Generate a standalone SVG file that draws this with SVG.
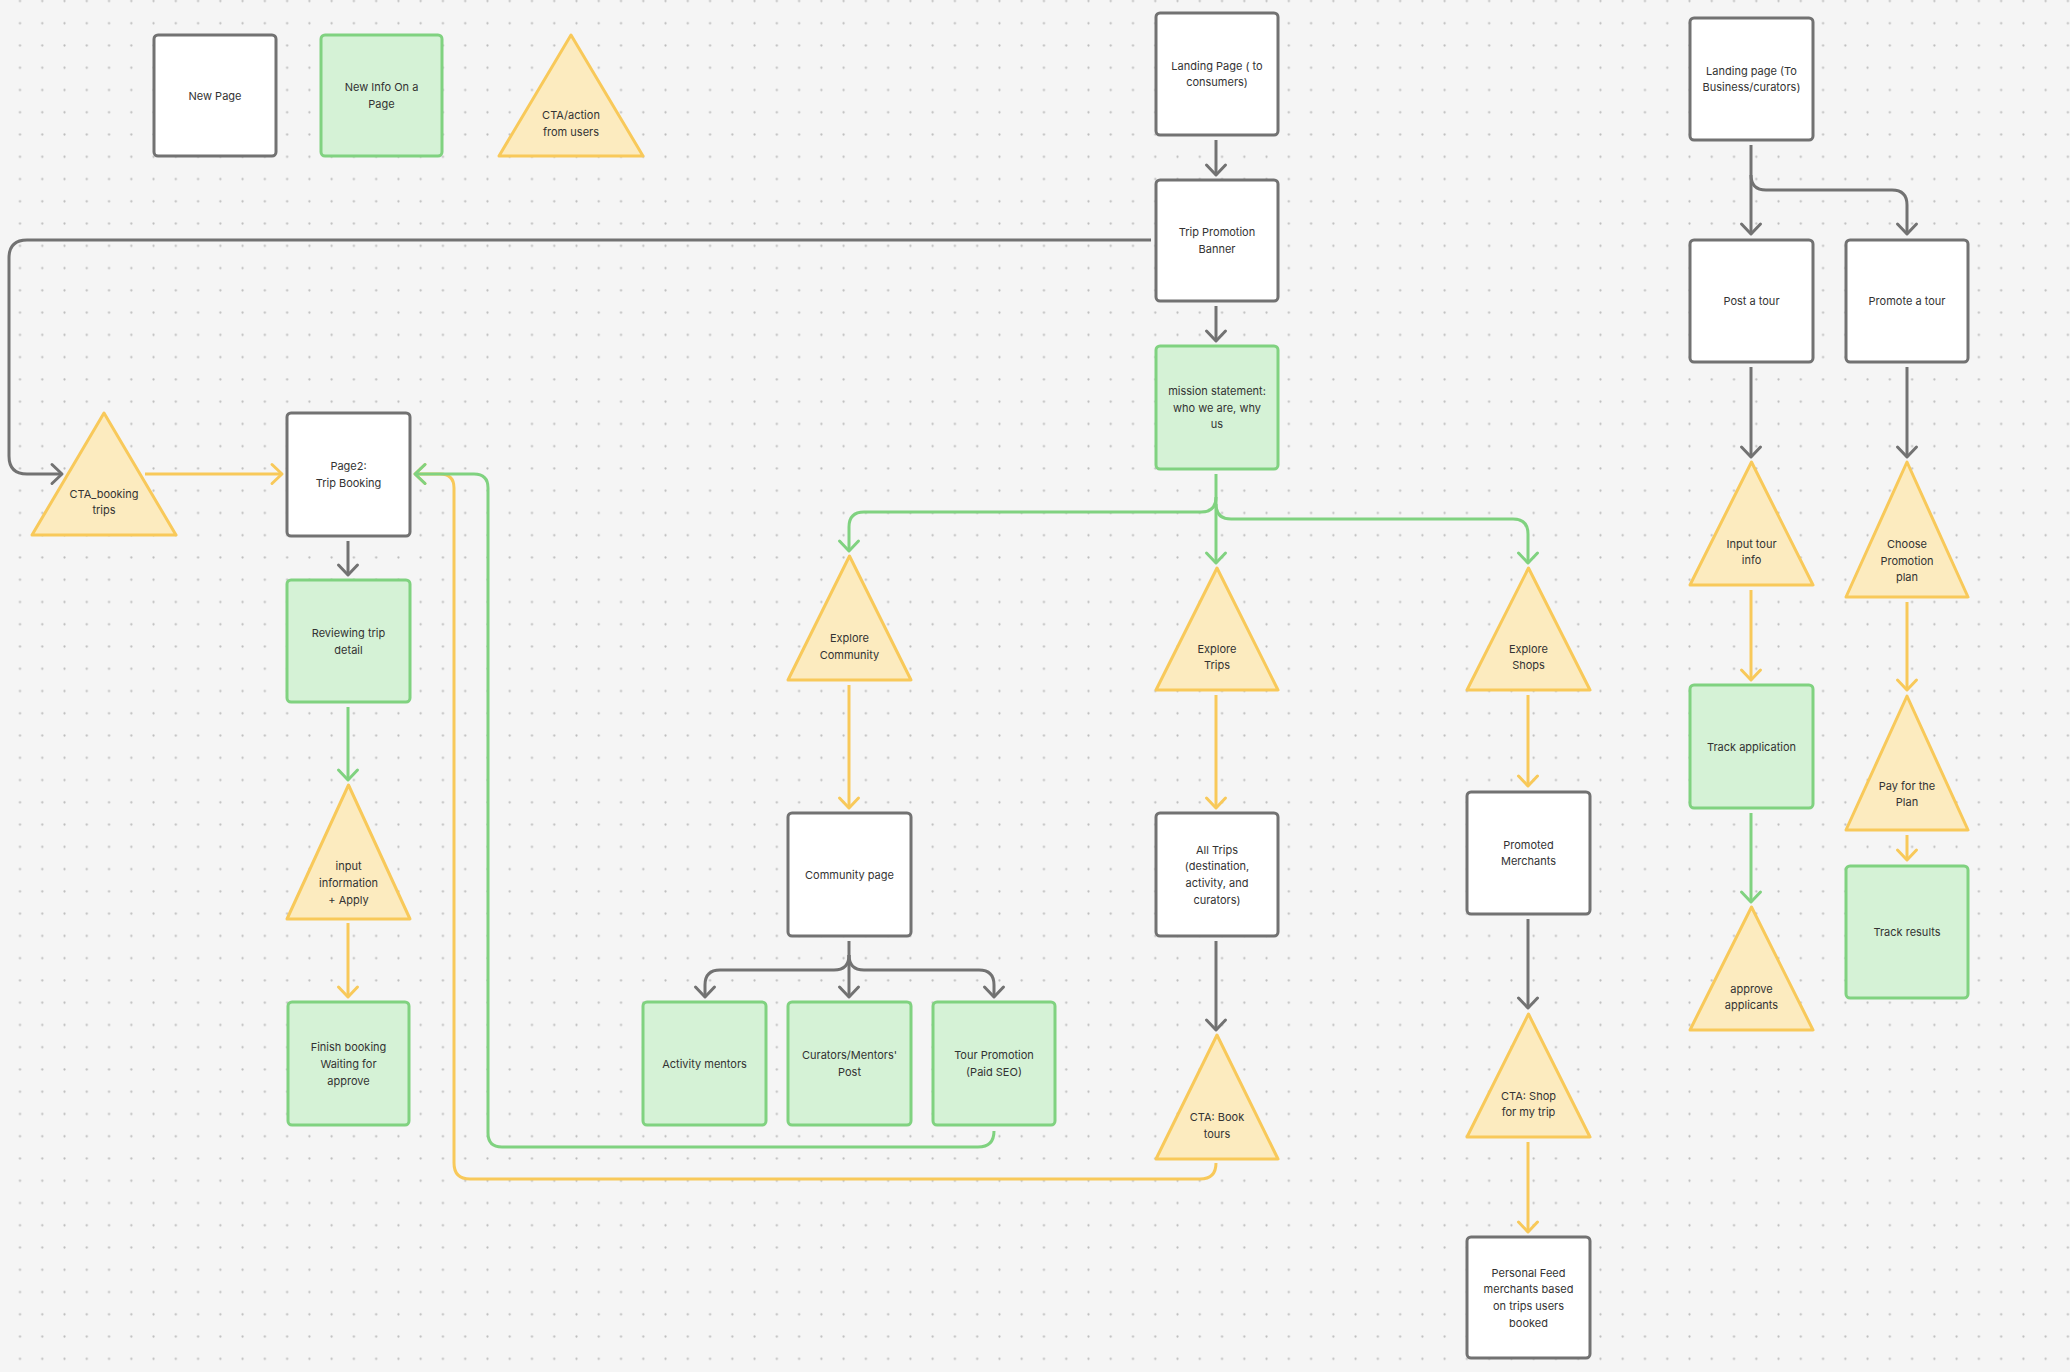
<svg xmlns="http://www.w3.org/2000/svg" width="2070" height="1372" viewBox="0 0 2070 1372">
<defs>
<pattern id="dots" x="8.87" y="-10.13" width="22.26" height="22.26" patternUnits="userSpaceOnUse">
<circle cx="11.13" cy="11.13" r="1.1" fill="#bcbcbc"/>
</pattern>
<marker id="ag" markerUnits="userSpaceOnUse" markerWidth="24" markerHeight="24" viewBox="-12 -12 24 24" refX="0" refY="0" orient="auto" overflow="visible">
<path d="M-10,-9.5 L0,0 L-10,9.5" fill="none" stroke="#727272" stroke-width="3" stroke-linecap="round" stroke-linejoin="round"/>
</marker>
<marker id="agr" markerUnits="userSpaceOnUse" markerWidth="24" markerHeight="24" viewBox="-12 -12 24 24" refX="0" refY="0" orient="auto" overflow="visible">
<path d="M-10,-9.5 L0,0 L-10,9.5" fill="none" stroke="#80d280" stroke-width="3" stroke-linecap="round" stroke-linejoin="round"/>
</marker>
<marker id="ay" markerUnits="userSpaceOnUse" markerWidth="24" markerHeight="24" viewBox="-12 -12 24 24" refX="0" refY="0" orient="auto" overflow="visible">
<path d="M-10,-9.5 L0,0 L-10,9.5" fill="none" stroke="#f8c95a" stroke-width="3" stroke-linecap="round" stroke-linejoin="round"/>
</marker>
</defs>
<style>
.pg{fill:#ffffff;stroke:#727272;stroke-width:3}
.info{fill:#d5f2d6;stroke:#80d280;stroke-width:3}
.cta{fill:#fcebbf;stroke:#f8c95a;stroke-width:3;stroke-linejoin:round}
.t{font-family:Inter,"Noto Sans","Liberation Sans",sans-serif;font-size:11px;fill:#333333;text-anchor:middle}
.cg{fill:none;stroke:#727272;stroke-width:3;marker-end:url(#ag)}
.cgn{fill:none;stroke:#727272;stroke-width:3}
.cgr{fill:none;stroke:#80d280;stroke-width:3;marker-end:url(#agr)}
.cy{fill:none;stroke:#f8c95a;stroke-width:3;marker-end:url(#ay)}
</style>
<rect x="0" y="0" width="2070" height="1372" fill="#f5f5f5"/>
<rect x="0" y="0" width="2070" height="1372" fill="url(#dots)"/>

<g id="connectors">
<!-- gray -->
<path class="cg" d="M1216,140 V175"/>
<path class="cg" d="M1216,306 V341"/>
<path class="cg" d="M1151,240 H27 Q9,240 9,258 V456 Q9,474 27,474 H62"/>
<path class="cg" d="M348,541 V575"/>
<path class="cg" d="M1751,145 V234"/>
<path class="cg" d="M1751,175 Q1751,190 1766,190 H1892 Q1907,190 1907,205 V234"/>
<path class="cg" d="M1751,367 V457"/>
<path class="cg" d="M1907,367 V457"/>
<path class="cg" d="M849,941 V997"/>
<path class="cg" d="M849,955 Q849,970 834,970 H720 Q705,970 705,985 V997"/>
<path class="cg" d="M849,955 Q849,970 864,970 H979 Q994,970 994,985 V997"/>
<path class="cg" d="M1216,941 V1030"/>
<path class="cg" d="M1528,919 V1008"/>
<!-- yellow -->
<path class="cy" d="M145,474 H282"/>
<path class="cy" d="M348,923 V997"/>
<path class="cy" d="M849,685 V808"/>
<path class="cy" d="M1216,695 V808"/>
<path class="cy" d="M1528,695 V786"/>
<path class="cy" d="M1216,1163 Q1216,1179 1200,1179 H470 Q454,1179 454,1163 V488 Q454,474 440,474 H415"/>
<path class="cy" d="M1528,1142 V1232"/>
<path class="cy" d="M1751,590 V680"/>
<path class="cy" d="M1907,602 V690"/>
<path class="cy" d="M1907,835 V860"/>
<!-- green -->
<path class="cgr" d="M1216,474 V563"/>
<path class="cgr" d="M1216,497 Q1216,512 1201,512 H864 Q849,512 849,527 V551"/>
<path class="cgr" d="M1216,504 Q1216,519 1231,519 H1513 Q1528,519 1528,534 V563"/>
<path class="cgr" d="M348,707 V780"/>
<path class="cgr" d="M1751,813 V902"/>
<path class="cgr" d="M994,1131 Q994,1147 978,1147 H502 Q488,1147 488,1133 V488 Q488,474 474,474 H415"/>
</g>

<!-- legend -->
<g id="legend-new-page"><rect class="pg" x="154" y="35" width="122" height="121" rx="4"/><text class="t" x="215" y="99.5">New Page</text></g>
<g id="legend-new-info"><rect class="info" x="321" y="35" width="121" height="121" rx="4"/><text class="t" x="381.5" y="91.2">New Info On a</text><text class="t" x="381.5" y="107.8">Page</text></g>
<g id="legend-cta"><polygon class="cta" points="571,35 643,156 499,156"/><text class="t" x="571" y="119">CTA/action</text><text class="t" x="571" y="135.7">from users</text></g>

<!-- consumer column -->
<g id="landing-consumers"><rect class="pg" x="1156" y="13" width="122" height="122" rx="4"/><text class="t" x="1217" y="69.7">Landing Page ( to</text><text class="t" x="1217" y="86.3">consumers)</text></g>
<g id="trip-promotion-banner"><rect class="pg" x="1156" y="180" width="122" height="121" rx="4"/><text class="t" x="1217" y="236.2">Trip Promotion</text><text class="t" x="1217" y="252.8">Banner</text></g>
<g id="mission-statement"><rect class="info" x="1156" y="346" width="122" height="123" rx="4"/><text class="t" x="1217" y="394.8">mission statement:</text><text class="t" x="1217" y="411.5">who we are, why</text><text class="t" x="1217" y="428.2">us</text></g>

<!-- business column -->
<g id="landing-business"><rect class="pg" x="1690" y="18" width="123" height="122" rx="4"/><text class="t" x="1751.5" y="74.7">Landing page (To</text><text class="t" x="1751.5" y="91.3">Business/curators)</text></g>
<g id="post-tour"><rect class="pg" x="1690" y="240" width="123" height="122" rx="4"/><text class="t" x="1751.5" y="305">Post a tour</text></g>
<g id="promote-tour"><rect class="pg" x="1846" y="240" width="122" height="122" rx="4"/><text class="t" x="1907" y="305">Promote a tour</text></g>
<g id="input-tour-info"><polygon class="cta" points="1751.5,462 1813,585 1690,585"/><text class="t" x="1751.5" y="547.5">Input tour</text><text class="t" x="1751.5" y="564.1">info</text></g>
<g id="choose-plan"><polygon class="cta" points="1907,462 1968,597 1846,597"/><text class="t" x="1907" y="547.8">Choose</text><text class="t" x="1907" y="564.5">Promotion</text><text class="t" x="1907" y="581.2">plan</text></g>
<g id="track-application"><rect class="info" x="1690" y="685" width="123" height="123" rx="4"/><text class="t" x="1751.5" y="750.5">Track application</text></g>
<g id="pay-plan"><polygon class="cta" points="1907,696 1968,830 1846,830"/><text class="t" x="1907" y="789.5">Pay for the</text><text class="t" x="1907" y="806.1">Plan</text></g>
<g id="track-results"><rect class="info" x="1846" y="866" width="122" height="132" rx="4"/><text class="t" x="1907" y="936">Track results</text></g>
<g id="approve-applicants"><polygon class="cta" points="1751.5,907 1813,1030 1690,1030"/><text class="t" x="1751.5" y="992.5">approve</text><text class="t" x="1751.5" y="1009.1">applicants</text></g>

<!-- explore -->
<g id="explore-community"><polygon class="cta" points="849.5,556 911,680 788,680"/><text class="t" x="849.5" y="642.2">Explore</text><text class="t" x="849.5" y="658.8">Community</text></g>
<g id="explore-trips"><polygon class="cta" points="1217,568 1278,690 1156,690"/><text class="t" x="1217" y="652.7">Explore</text><text class="t" x="1217" y="669.3">Trips</text></g>
<g id="explore-shops"><polygon class="cta" points="1528.5,568 1590,690 1467,690"/><text class="t" x="1528.5" y="652.7">Explore</text><text class="t" x="1528.5" y="669.3">Shops</text></g>
<g id="community-page"><rect class="pg" x="788" y="813" width="123" height="123" rx="4"/><text class="t" x="849.5" y="878.5">Community page</text></g>
<g id="all-trips"><rect class="pg" x="1156" y="813" width="122" height="123" rx="4"/><text class="t" x="1217" y="853.5">All Trips</text><text class="t" x="1217" y="870.2">(destination,</text><text class="t" x="1217" y="886.8">activity, and</text><text class="t" x="1217" y="903.5">curators)</text></g>
<g id="promoted-merchants"><rect class="pg" x="1467" y="792" width="123" height="122" rx="4"/><text class="t" x="1528.5" y="848.7">Promoted</text><text class="t" x="1528.5" y="865.3">Merchants</text></g>
<g id="activity-mentors"><rect class="info" x="643" y="1002" width="123" height="123" rx="4"/><text class="t" x="704.5" y="1067.5">Activity mentors</text></g>
<g id="curators-post"><rect class="info" x="788" y="1002" width="123" height="123" rx="4"/><text class="t" x="849.5" y="1059.2">Curators/Mentors'</text><text class="t" x="849.5" y="1075.8">Post</text></g>
<g id="tour-promotion"><rect class="info" x="933" y="1002" width="122" height="123" rx="4"/><text class="t" x="994" y="1059.2">Tour Promotion</text><text class="t" x="994" y="1075.8">(Paid SEO)</text></g>
<g id="cta-book-tours"><polygon class="cta" points="1217,1035 1278,1159 1156,1159"/><text class="t" x="1217" y="1121.2">CTA: Book</text><text class="t" x="1217" y="1137.8">tours</text></g>
<g id="cta-shop"><polygon class="cta" points="1528.5,1014 1590,1137 1467,1137"/><text class="t" x="1528.5" y="1099.5">CTA: Shop</text><text class="t" x="1528.5" y="1116.1">for my trip</text></g>
<g id="personal-feed"><rect class="pg" x="1467" y="1237" width="123" height="121" rx="4"/><text class="t" x="1528.5" y="1276.7">Personal Feed</text><text class="t" x="1528.5" y="1293.3">merchants based</text><text class="t" x="1528.5" y="1310">on trips users</text><text class="t" x="1528.5" y="1326.7">booked</text></g>

<!-- booking flow -->
<g id="cta-booking"><polygon class="cta" points="104,413 176,535 32,535"/><text class="t" x="104" y="497.7">CTA_booking</text><text class="t" x="104" y="514.3">trips</text></g>
<g id="page2"><rect class="pg" x="287" y="413" width="123" height="123" rx="4"/><text class="t" x="348.5" y="470">Page2:</text><text class="t" x="348.5" y="486.7">Trip Booking</text></g>
<g id="reviewing"><rect class="info" x="287" y="580" width="123" height="122" rx="4"/><text class="t" x="348.5" y="636.8">Reviewing trip</text><text class="t" x="348.5" y="653.5">detail</text></g>
<g id="input-information"><polygon class="cta" points="348.5,785 410,919 287,919"/><text class="t" x="348.5" y="870.1">input</text><text class="t" x="348.5" y="886.8">information</text><text class="t" x="348.5" y="903.5">+ Apply</text></g>
<g id="finish-booking"><rect class="info" x="288" y="1002" width="121" height="123" rx="4"/><text class="t" x="348.5" y="1051.2">Finish booking</text><text class="t" x="348.5" y="1067.8">Waiting for</text><text class="t" x="348.5" y="1084.5">approve</text></g>
</svg>
